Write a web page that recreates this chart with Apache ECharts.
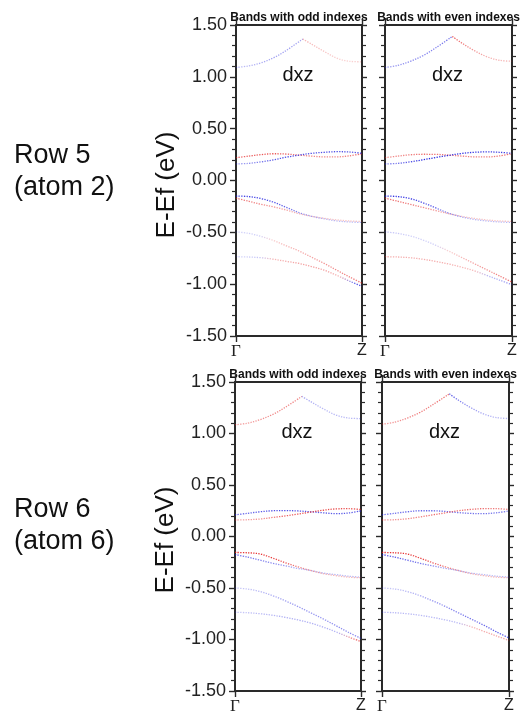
<!DOCTYPE html>
<html>
<head>
<meta charset="utf-8">
<script src="https://cdn.jsdelivr.net/npm/echarts@6/dist/echarts.min.js"></script>
<style>
  html, body { margin: 0; padding: 0; background: #fff; }
  #chart { width: 520px; height: 717px; }
</style>
</head>
<body>
<div id="chart"></div>
<script>
// Positions along the Γ–Z path (fraction of the path)
const kPath = [0, 0.1, 0.2, 0.3, 0.4, 0.5, 0.6, 0.7, 0.8, 0.9, 1.0];
const kRise = [0, 0.1, 0.2, 0.3, 0.4, 0.53];      // upper band, Γ side of its cusp
const kFall = [0.53, 0.6, 0.7, 0.8, 0.9, 1.0];    // upper band, Z side of its cusp
// k positions for each band, in the order used by the energy / weight tables below:
// upper band (two halves), two conduction bands, two valence bands, two deeper bands
const bandK = [kRise, kFall, kPath, kPath, kPath, kPath, kPath, kPath];

const kLabels = ['Γ', 'Z'];
const panelTitles = ['Bands with odd indexes', 'Bands with even indexes'];
const rowNames = [['Row 5', '(atom 2)'], ['Row 6', '(atom 6)']];
const orbitalName = 'dxz';
const energyAxisName = 'E-Ef (eV)';

// Band energies E-Ef (eV) and dxz projection weights (+ red, - blue, size = weight)
const row5OddE = [
  [1.09, 1.105, 1.135, 1.185, 1.255, 1.365],
  [1.365, 1.315, 1.245, 1.18, 1.15, 1.145],
  [0.22, 0.235, 0.25, 0.258, 0.255, 0.245, 0.235, 0.228, 0.228, 0.238, 0.258],
  [0.16, 0.165, 0.18, 0.20, 0.225, 0.245, 0.262, 0.272, 0.278, 0.275, 0.262],
  [-0.15, -0.155, -0.175, -0.21, -0.26, -0.31, -0.345, -0.37, -0.39, -0.40, -0.405],
  [-0.17, -0.20, -0.23, -0.255, -0.285, -0.32, -0.345, -0.365, -0.38, -0.39, -0.395],
  [-0.495, -0.51, -0.54, -0.58, -0.63, -0.68, -0.74, -0.80, -0.865, -0.93, -0.99],
  [-0.735, -0.738, -0.745, -0.76, -0.78, -0.80, -0.83, -0.865, -0.915, -0.97, -1.02]
];
const row5OddW = [
  [-0.3, -0.3, -0.35, -0.4, -0.4, -0.4],
  [0.3, 0.3, 0.25, 0.2, 0.2, 0.2],
  [0.6, 0.65, 0.7, 0.7, 0.65, 0.55, 0.5, 0.5, 0.5, 0.55, 0.6],
  [-0.4, -0.45, -0.55, -0.7, -0.75, -0.75, -0.75, -0.75, -0.75, -0.7, -0.7],
  [-0.8, -0.8, -0.8, -0.75, -0.65, -0.5, -0.4, -0.3, -0.3, -0.3, -0.3],
  [0.6, 0.55, 0.5, 0.45, 0.4, 0.3, 0.25, 0.25, 0.25, 0.25, 0.25],
  [-0.2, -0.2, -0.2, 0.2, 0.3, 0.35, 0.4, 0.45, 0.5, 0.55, 0.6],
  [-0.2, -0.2, -0.25, 0.3, 0.35, 0.4, 0.4, 0.4, 0.3, -0.6, -0.85]
];

const row5EvenE = [
  [1.09, 1.11, 1.15, 1.205, 1.28, 1.39],
  [1.39, 1.33, 1.255, 1.195, 1.16, 1.15],
  [0.22, 0.235, 0.248, 0.253, 0.252, 0.245, 0.236, 0.228, 0.227, 0.237, 0.258],
  [0.16, 0.165, 0.18, 0.20, 0.222, 0.242, 0.26, 0.272, 0.276, 0.272, 0.262],
  [-0.15, -0.155, -0.175, -0.215, -0.265, -0.315, -0.35, -0.375, -0.39, -0.40, -0.405],
  [-0.17, -0.20, -0.23, -0.26, -0.29, -0.32, -0.345, -0.365, -0.38, -0.39, -0.395],
  [-0.495, -0.51, -0.535, -0.575, -0.625, -0.68, -0.74, -0.80, -0.86, -0.92, -0.98],
  [-0.735, -0.738, -0.745, -0.76, -0.78, -0.805, -0.835, -0.87, -0.915, -0.96, -1.005]
];
const row5EvenW = [
  [-0.4, -0.45, -0.5, -0.5, -0.55, -0.6],
  [0.7, 0.6, 0.45, 0.35, 0.3, 0.3],
  [0.45, 0.5, 0.55, 0.6, 0.6, 0.55, 0.55, 0.55, 0.55, 0.6, 0.6],
  [-0.5, -0.55, -0.7, -0.9, -0.9, -0.85, -0.85, -0.85, -0.8, -0.8, -0.8],
  [-0.85, -0.85, -0.8, -0.75, -0.7, -0.55, -0.4, -0.3, -0.3, -0.3, -0.3],
  [0.6, 0.6, 0.55, 0.5, 0.45, 0.35, 0.25, 0.25, 0.25, 0.25, 0.25],
  [-0.25, -0.25, -0.2, -0.2, -0.2, 0.2, 0.3, 0.4, 0.45, 0.55, 0.6],
  [0.35, 0.35, 0.35, 0.35, 0.35, 0.35, 0.3, 0.3, -0.3, -0.35, -0.5]
];

const row6OddE = [
  [1.085, 1.10, 1.135, 1.185, 1.255, 1.36],
  [1.36, 1.31, 1.24, 1.18, 1.15, 1.145],
  [0.21, 0.225, 0.24, 0.25, 0.252, 0.248, 0.24, 0.23, 0.222, 0.228, 0.248],
  [0.16, 0.163, 0.17, 0.185, 0.20, 0.218, 0.237, 0.255, 0.268, 0.27, 0.262],
  [-0.155, -0.158, -0.17, -0.21, -0.255, -0.295, -0.33, -0.36, -0.38, -0.395, -0.40],
  [-0.175, -0.20, -0.23, -0.26, -0.285, -0.31, -0.33, -0.355, -0.37, -0.385, -0.395],
  [-0.50, -0.51, -0.535, -0.575, -0.625, -0.68, -0.74, -0.80, -0.865, -0.93, -0.99],
  [-0.735, -0.74, -0.75, -0.765, -0.785, -0.81, -0.84, -0.88, -0.925, -0.975, -1.02]
];
const row6OddW = [
  [0.4, 0.4, 0.45, 0.5, 0.5, 0.5],
  [-0.35, -0.35, -0.3, -0.3, -0.3, -0.3],
  [-0.6, -0.65, -0.7, -0.75, -0.75, -0.75, -0.7, -0.7, -0.7, -0.7, -0.7],
  [0.35, 0.4, 0.45, 0.55, 0.65, 0.7, 0.75, 0.75, 0.75, 0.7, 0.65],
  [0.85, 0.85, 0.85, 0.8, 0.7, 0.55, 0.45, 0.35, 0.3, 0.3, 0.3],
  [-0.6, -0.6, -0.55, -0.5, -0.45, -0.35, -0.3, -0.3, -0.3, -0.3, -0.3],
  [-0.25, -0.25, -0.3, -0.35, -0.4, -0.45, -0.45, -0.45, -0.5, -0.5, -0.55],
  [-0.25, -0.25, -0.3, -0.3, -0.35, -0.35, -0.35, -0.35, -0.3, 0.5, 0.8]
];

const row6EvenE = [
  [1.09, 1.11, 1.15, 1.205, 1.28, 1.385],
  [1.385, 1.325, 1.25, 1.19, 1.155, 1.145],
  [0.21, 0.225, 0.24, 0.25, 0.25, 0.243, 0.232, 0.224, 0.222, 0.23, 0.248],
  [0.16, 0.163, 0.172, 0.19, 0.21, 0.23, 0.25, 0.263, 0.27, 0.27, 0.262],
  [-0.155, -0.158, -0.17, -0.21, -0.255, -0.295, -0.33, -0.36, -0.38, -0.395, -0.40],
  [-0.175, -0.20, -0.23, -0.26, -0.285, -0.31, -0.33, -0.355, -0.37, -0.385, -0.395],
  [-0.50, -0.51, -0.535, -0.575, -0.625, -0.68, -0.74, -0.80, -0.86, -0.925, -0.985],
  [-0.735, -0.74, -0.75, -0.765, -0.785, -0.81, -0.84, -0.875, -0.92, -0.965, -1.01]
];
const row6EvenW = [
  [0.4, 0.45, 0.5, 0.55, 0.55, 0.6],
  [-0.7, -0.6, -0.45, -0.35, -0.3, -0.3],
  [-0.6, -0.6, -0.65, -0.65, -0.65, -0.6, -0.6, -0.6, -0.6, -0.6, -0.6],
  [0.4, 0.45, 0.5, 0.55, 0.6, 0.6, 0.6, 0.6, 0.6, 0.55, 0.55],
  [0.85, 0.85, 0.85, 0.8, 0.7, 0.55, 0.45, 0.35, 0.3, 0.3, 0.3],
  [-0.7, -0.7, -0.65, -0.6, -0.5, -0.4, -0.35, -0.3, -0.3, -0.3, -0.3],
  [-0.25, -0.25, -0.3, -0.35, -0.45, -0.5, -0.55, -0.6, -0.65, -0.7, -0.7],
  [-0.3, -0.3, -0.3, -0.3, -0.3, -0.3, -0.3, 0.3, 0.35, 0.4, 0.4]
];

// ---- layout ----
const panels = [
  { rect: { left: 236, top: 25, width: 126, height: 311 }, E: row5OddE, W: row5OddW, title: 0, yLabels: true },
  { rect: { left: 385, top: 25, width: 127, height: 311 }, E: row5EvenE, W: row5EvenW, title: 1, yLabels: false },
  { rect: { left: 235, top: 382, width: 126, height: 309 }, E: row6OddE, W: row6OddW, title: 0, yLabels: true },
  { rect: { left: 382, top: 382, width: 127, height: 309 }, E: row6EvenE, W: row6EvenW, title: 1, yLabels: false }
];

const ink = '#2a2a2a';
const sans = '"Liberation Sans", Arial, sans-serif';
const serif = '"Liberation Serif", "Times New Roman", serif';

function weightColor(w) {
  const a = Math.min(1, Math.abs(w)).toFixed(2);
  return w >= 0 ? `rgba(226,18,18,${a})` : `rgba(22,22,222,${a})`;
}

const grid = [], xAxis = [], yAxis = [], series = [], graphic = [];

panels.forEach((p, pi) => {
  grid.push(Object.assign({ containLabel: false }, p.rect));
  const lineStyle = { color: ink, width: 2 };
  const tickStyle = { color: ink, width: 1.4 };
  // bottom k axis with Γ / Z
  xAxis.push({
    gridIndex: pi, type: 'value', min: 0, max: 1, interval: 1, position: 'bottom',
    axisLine: { show: true, onZero: false, lineStyle },
    axisTick: { show: true, length: 6, lineStyle: tickStyle },
    axisLabel: {
      margin: 7,
      formatter: v => (v === 0 ? '{g|' + kLabels[0] + '}' : '{z|' + kLabels[1] + '}'),
      rich: {
        g: { fontFamily: serif, fontSize: 17, color: '#222' },
        z: { fontFamily: sans, fontSize: 16, color: '#222' }
      }
    },
    splitLine: { show: false }
  });
  // top frame
  xAxis.push({
    gridIndex: pi, type: 'value', min: 0, max: 1, interval: 1, position: 'top',
    axisLine: { show: true, onZero: false, lineStyle },
    axisTick: { show: true, length: 7, lineStyle: tickStyle },
    axisLabel: { show: false },
    splitLine: { show: false }
  });
  // energy axis on the left
  yAxis.push({
    gridIndex: pi, type: 'value', min: -1.5, max: 1.5, interval: 0.5, position: 'left',
    axisLine: { show: true, onZero: false, lineStyle },
    axisTick: { show: true, length: 6, lineStyle: tickStyle },
    minorTick: { show: true, splitNumber: 5, length: 4, lineStyle: { color: ink, width: 1.2 } },
    axisLabel: {
      show: p.yLabels, margin: 9, formatter: v => v.toFixed(2),
      fontFamily: sans, fontSize: 18, color: '#222'
    },
    splitLine: { show: false }
  });
  // right frame
  yAxis.push({
    gridIndex: pi, type: 'value', min: -1.5, max: 1.5, interval: 0.5, position: 'right',
    axisLine: { show: true, onZero: false, lineStyle },
    axisTick: { show: true, length: 5, lineStyle: tickStyle },
    minorTick: { show: true, splitNumber: 5, length: 4, lineStyle: { color: ink, width: 1.2 } },
    axisLabel: { show: false },
    splitLine: { show: false }
  });

  // projected bands: dotted lines coloured along k by the projection weight
  p.E.forEach((e, bi) => {
    const k = bandK[bi];
    const k0 = k[0], k1 = k[k.length - 1];
    series.push({
      type: 'line',
      xAxisIndex: pi * 2,
      yAxisIndex: pi * 2,
      data: k.map((x, i) => [x, e[i]]),
      smooth: 0.35,
      showSymbol: false,
      silent: true,
      animation: false,
      lineStyle: {
        width: 1.3,
        type: [1.3, 1.3],
        color: {
          type: 'linear', x: 0, y: 0, x2: 1, y2: 0,
          colorStops: k.map((x, i) => ({ offset: (x - k0) / (k1 - k0), color: weightColor(p.W[bi][i]) }))
        }
      }
    });
  });

  const cx = p.rect.left + p.rect.width / 2;
  // panel title
  graphic.push({
    type: 'text', x: cx, y: p.rect.top - 7,
    style: { text: panelTitles[p.title], font: 'bold 12px ' + sans, fill: '#111', align: 'center', verticalAlign: 'middle' }
  });
  // orbital label
  graphic.push({
    type: 'text', x: cx - 1, y: p.rect.top + 50,
    style: { text: orbitalName, font: '20px ' + sans, fill: '#111', align: 'center', verticalAlign: 'middle' }
  });
});

// energy axis titles
[{ x: 167, y: 185 }, { x: 166, y: 540 }].forEach(pos => {
  graphic.push({
    type: 'text', x: pos.x, y: pos.y, rotation: Math.PI / 2,
    style: { text: energyAxisName, font: '26px ' + sans, fill: '#111', align: 'center', verticalAlign: 'middle' }
  });
});

// row captions
[{ y: 156 }, { y: 510 }].forEach((pos, ri) => {
  graphic.push({
    type: 'text', x: 14, y: pos.y,
    style: { text: rowNames[ri][0], font: '27px ' + sans, fill: '#111', align: 'left', verticalAlign: 'middle' }
  });
  graphic.push({
    type: 'text', x: 14, y: pos.y + 32,
    style: { text: rowNames[ri][1], font: '27px ' + sans, fill: '#111', align: 'left', verticalAlign: 'middle' }
  });
});

const chart = echarts.init(document.getElementById('chart'), null, { renderer: 'canvas' });
chart.setOption({
  backgroundColor: '#ffffff',
  animation: false,
  grid, xAxis, yAxis, series, graphic
});
</script>
</body>
</html>
